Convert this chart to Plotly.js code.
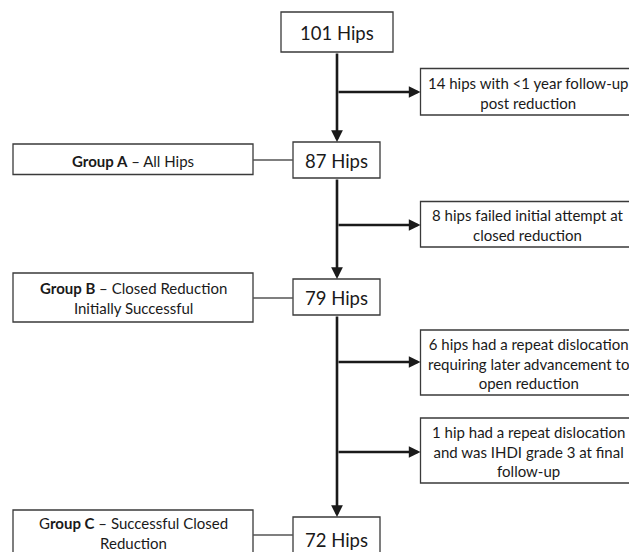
<!DOCTYPE html>
<html>
<head>
<meta charset="utf-8">
<script src="https://cdn.plot.ly/plotly-3.0.1.min.js"></script>
<style>html,body{margin:0;padding:0;background:#fff;}#chart{width:629px;height:552px;}</style>
</head>
<body>
<div id="chart"></div>
<script>
// ---- Data ----
const hipCounts = [101, 87, 79, 72];
const countUnit = 'Hips';
const groupLetters = ['A', 'B', 'C'];
const groupDescriptions = ['All Hips', 'Closed Reduction<br>Initially Successful', 'Successful Closed<br>Reduction'];
const exclusionTexts = [
  '14 hips with &lt;1 year follow-up<br>post reduction',
  '8 hips failed initial attempt at<br>closed reduction',
  '6 hips had a repeat dislocation<br>requiring later advancement to<br>open reduction',
  '1 hip had a repeat dislocation<br>and was IHDI grade 3 at final<br>follow-up'
];

// ---- Layout geometry (pixel-like coordinates) ----
const FONT = 'Lato, "Open Sans", sans-serif';
const spineX = 337;
const mainBoxes = [
  {x0: 281, x1: 393, y0: 12, y1: 52, ty: 33},
  {x0: 293, x1: 380, y0: 142, y1: 178, ty: 161},
  {x0: 293, x1: 380, y0: 279, y1: 315, ty: 298},
  {x0: 293, x1: 380, y0: 517, y1: 560, ty: 540}
];
const groupBoxes = [
  {x0: 13, x1: 253, y0: 144, y1: 174.5, cy: 160, ty: 161},
  {x0: 13, x1: 253, y0: 273, y1: 322, cy: 298, ty: 298},
  {x0: 13, x1: 253, y0: 510, y1: 570, cy: 535, ty: 533}
];
const exclBoxes = [
  {x0: 420.5, x1: 636, y0: 68.5, y1: 115, ay: 92},
  {x0: 420.5, x1: 636, y0: 201.5, y1: 247, ay: 225},
  {x0: 420.5, x1: 636, y0: 330, y1: 395, ay: 362},
  {x0: 420.5, x1: 636, y0: 418, y1: 483, ay: 452}
];

const shapes = [];
const annotations = [];
const boxLine = {color: '#3a3a3a', width: 1.3};
const TXT = '#1a1a1a';

// main count boxes
mainBoxes.forEach((b, i) => {
  shapes.push({type: 'rect', xref: 'x', yref: 'y', x0: b.x0, x1: b.x1, y0: b.y0, y1: b.y1, line: boxLine, fillcolor: '#fff'});
  annotations.push({x: (b.x0 + b.x1) / 2, y: b.ty, xref: 'x', yref: 'y', showarrow: false,
    text: hipCounts[i] + ' ' + countUnit, font: {family: FONT, size: 18.5, color: TXT}});
});

// group boxes + connectors
groupBoxes.forEach((b, i) => {
  shapes.push({type: 'rect', xref: 'x', yref: 'y', x0: b.x0, x1: b.x1, y0: b.y0, y1: b.y1, line: boxLine, fillcolor: '#fff'});
  shapes.push({type: 'line', xref: 'x', yref: 'y', x0: b.x1, x1: mainBoxes[i + 1].x0, y0: b.cy, y1: b.cy, line: {color: '#555', width: 1.3}});
  const label = (i === 2 ? 'G<b>roup ' + groupLetters[i] + '</b>' : '<b>Group ' + groupLetters[i] + '</b>') + ' – ' + groupDescriptions[i];
  annotations.push({x: (b.x0 + b.x1) / 2, y: b.ty, xref: 'x', yref: 'y', showarrow: false, align: 'center',
    text: label, font: {family: FONT, size: 15, color: TXT}});
});

// exclusion boxes + branch arrows
exclBoxes.forEach((b, i) => {
  shapes.push({type: 'rect', xref: 'x', yref: 'y', x0: b.x0, x1: b.x1, y0: b.y0, y1: b.y1, line: boxLine, fillcolor: '#fff'});
  annotations.push({x: 528, y: (b.y0 + b.y1) / 2 + 1, xref: 'x', yref: 'y', showarrow: false, align: 'center',
    text: exclusionTexts[i], font: {family: FONT, size: 15, color: TXT}});
  annotations.push({x: b.x0, y: b.ay, ax: spineX, ay: b.ay, xref: 'x', yref: 'y', axref: 'x', ayref: 'y', text: '',
    showarrow: true, arrowhead: 2, arrowsize: 0.9, arrowwidth: 2.6, arrowcolor: TXT});
});

// spine arrows
const spine = [[mainBoxes[0].y1, mainBoxes[1].y0], [mainBoxes[1].y1, mainBoxes[2].y0], [mainBoxes[2].y1, mainBoxes[3].y0]];
spine.forEach(s => {
  annotations.push({x: spineX, y: s[1], ax: spineX, ay: s[0], xref: 'x', yref: 'y', axref: 'x', ayref: 'y', text: '',
    showarrow: true, arrowhead: 2, arrowsize: 0.9, arrowwidth: 2.6, arrowcolor: TXT});
});

const layout = {
  width: 629, height: 552,
  margin: {l: 0, r: 0, t: 0, b: 0},
  paper_bgcolor: '#fff', plot_bgcolor: '#fff',
  xaxis: {range: [0, 629], visible: false, fixedrange: true},
  yaxis: {range: [552, 0], visible: false, fixedrange: true},
  shapes: shapes,
  annotations: annotations,
  showlegend: false
};

Plotly.newPlot('chart', [{x: [], y: [], type: 'scatter', mode: 'markers', hoverinfo: 'skip'}], layout, {staticPlot: true});
</script>
</body>
</html>
